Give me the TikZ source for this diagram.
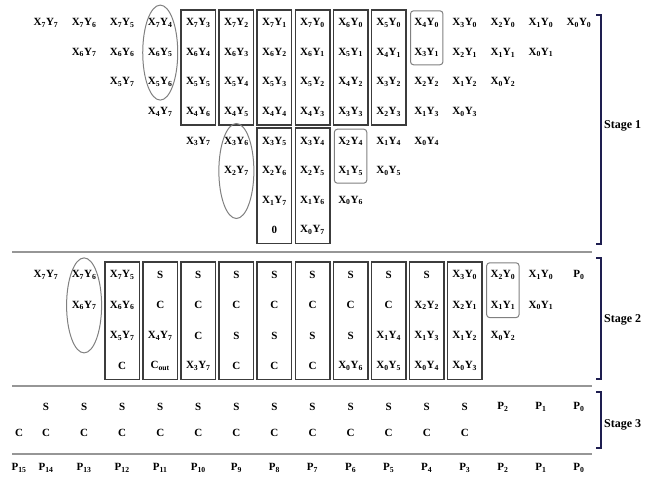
\documentclass[tikz,border=0pt]{standalone}
\usepackage{fontspec}
\setmainfont{Liberation Serif}
\usetikzlibrary{shapes.geometric, fit, calc}
\definecolor{cBrk}{RGB}{30,30,80}
\definecolor{cRule}{RGB}{150,150,150}
\definecolor{cBox}{RGB}{60,60,60}
\newcommand{\xy}[2]{X\textsubscript{#1}Y\textsubscript{#2}}
\newcommand{\pp}[1]{P\textsubscript{#1}}
\tikzset{
	bit/.style     ={font=\fontsize{11}{13}\selectfont\bfseries, inner sep=0pt, minimum width=26pt, minimum height=12pt},
	csa/.style     ={rectangle, draw=cBox, line width=1.6pt, inner xsep=4pt, inner ysep=7pt},
	ha/.style      ={rectangle, rounded corners=3pt, draw=gray, line width=1pt, inner xsep=3pt, inner ysep=6pt},
	fa/.style      ={ellipse, draw=gray, line width=1pt, minimum width=35pt, minimum height=95pt, inner sep=0pt},
	sepline/.style ={cRule, line width=1.5pt},
	brk/.style     ={cBrk, line width=1.5pt},
	stg/.style     ={font=\fontsize{12}{14}\selectfont\bfseries, anchor=west, inner sep=0pt},
}

\begin{document}
\begin{tikzpicture}[x=1pt, y=-1pt]
	\useasboundingbox (0,0) rectangle (646,487);
	% stage 1: partial products
	\foreach \c/\lst in {14/{\xy77}, 13/{\xy76,\xy67}, 12/{\xy75,\xy66,\xy57},
			11/{\xy74,\xy65,\xy56,\xy47}, 10/{\xy73,\xy64,\xy55,\xy46,\xy37},
			9/{\xy72,\xy63,\xy54,\xy45,\xy36,\xy27}, 8/{\xy71,\xy62,\xy53,\xy44,\xy35,\xy26,\xy17,0},
			7/{\xy70,\xy61,\xy52,\xy43,\xy34,\xy25,\xy16,\xy07}, 6/{\xy60,\xy51,\xy42,\xy33,\xy24,\xy15,\xy06},
			5/{\xy50,\xy41,\xy32,\xy23,\xy14,\xy05}, 4/{\xy40,\xy31,\xy22,\xy13,\xy04},
			3/{\xy30,\xy21,\xy12,\xy03}, 2/{\xy20,\xy11,\xy02}, 1/{\xy10,\xy01}, 0/{\xy00}}{
		\foreach \t [count=\r] in \lst
			\node[bit] (a\c-\r) at ({579-38.07*\c},{23+29.6*(\r-1)}) {\t};
	}
	\foreach \c in {10,9,...,5} \node[csa, fit=(a\c-1)(a\c-4)] {};
	\node[csa, fit=(a8-5)(a8-8)] {};
	\node[csa, fit=(a7-5)(a7-8)] {};
	\node[ha, fit=(a4-1)(a4-2)] {};
	\node[ha, fit=(a6-5)(a6-6)] {};
	\node[fa] at (a11-2) {};
	\node[fa] at (a9-6) {};

	% stage 2
	\foreach \c/\lst in {14/{\xy77}, 13/{\xy76,\xy67}, 12/{\xy75,\xy66,\xy57,C},
			11/{S,C,\xy47,C\textsubscript{out}}, 10/{S,C,C,\xy37}, 9/{S,C,S,C}, 8/{S,C,S,C},
			7/{S,C,S,C}, 6/{S,C,S,\xy06}, 5/{S,C,\xy14,\xy05}, 4/{S,\xy22,\xy13,\xy04},
			3/{\xy30,\xy21,\xy12,\xy03}, 2/{\xy20,\xy11,\xy02}, 1/{\xy10,\xy01}, 0/{\pp0}}{
		\foreach \t [count=\r] in \lst
			\node[bit] (b\c-\r) at ({579-38.07*\c},{275+30.4*(\r-1)}) {\t};
	}
	\foreach \c in {12,11,...,3} \node[csa, fit=(b\c-1)(b\c-4)] {};
	\node[ha, fit=(b2-1)(b2-2)] {};
	\node[fa] at (b13-2) {};

	% stage 3
	\foreach \c in {14,13,...,3}{
		\node[bit] (c\c-1) at ({579-38.07*\c},407) {S};
		\node[bit] (c\c-2) at ({579-38.07*\c},433) {C};
	}
	\node[bit] (c15-2) at (19,433) {C};
	\foreach \c in {2,1,0} \node[bit] (c\c-1) at ({579-38.07*\c},407) {\pp{\c}};

	% final product
	\foreach \c in {0,1,...,14} \node[bit] (p\c) at ({579-38.07*\c},468) {\pp{\c}};
	\node[bit] (p15) at (19,468) {\pp{15}};

	\draw[sepline] (12,252) -- (592,252);
	\draw[sepline] (12,386) -- (592,386);
	\draw[sepline] (12,454) -- (592,454);

	\draw[brk] (596,15) -| (601,244) -- (596,244);
	\draw[brk] (596,258) -| (601,379) -- (596,379);
	\draw[brk] (596,392) -| (601,448) -- (596,448);
	\node[stg] (st1) at (604,126) {Stage 1};
	\node[stg] (st2) at (604,320) {Stage 2};
	\node[stg] (st3) at (604,425) {Stage 3};
\end{tikzpicture}
\end{document}
